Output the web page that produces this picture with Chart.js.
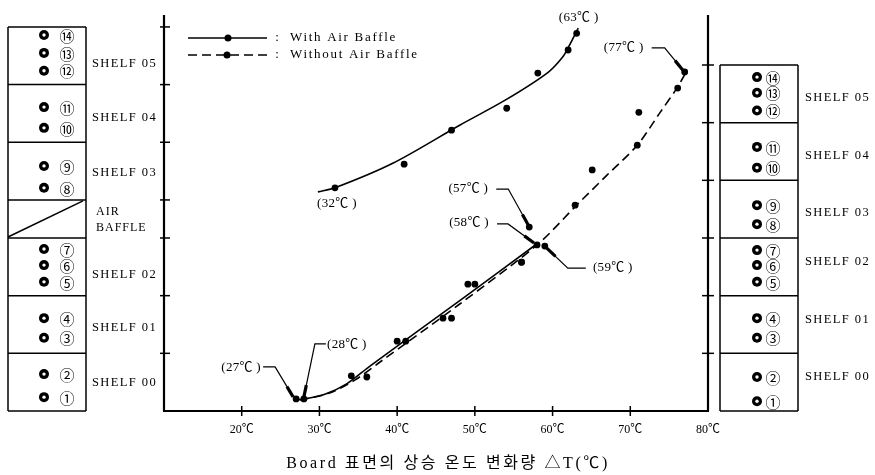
<!DOCTYPE html>
<html>
<head>
<meta charset="utf-8">
<script src="https://cdn.jsdelivr.net/npm/chart.js@4"></script>
<style>
html,body{margin:0;padding:0;background:#fff;}
#wrap{width:875px;height:475px;position:relative;}
canvas{display:block;}
</style>
</head>
<body>
<div id="wrap"><canvas id="c" width="875" height="475"></canvas></div>
<script>
// ---- data (x: temperature rise °C, y: sensor height in shelf units) ----
const sensorLabels = ['①','②','③','④','⑤','⑥','⑦','⑧','⑨','⑩','⑪','⑫','⑬','⑭'];
const tempWith      = [27.0, 34.1, 40.0, 45.9, 49.1, 56.0, 58.0, 32.0, 40.9, 47.0, 54.1, 58.1, 62.0, 63.1];
const heightWith    = [0.21, 0.61, 1.21, 1.61, 2.20, 2.58, 2.88, 3.87, 4.28, 4.87, 5.25, 5.86, 6.26, 6.55];
const tempWithout   = [28.0, 36.1, 41.1, 47.0, 50.0, 56.0, 59.0, 57.0, 62.9, 65.1, 70.9, 71.1, 76.1, 77.0];
const heightWithout = [0.21, 0.59, 1.21, 1.61, 2.20, 2.58, 2.86, 3.19, 3.57, 4.18, 4.61, 5.18, 5.60, 5.88];

// fitted curves
const curveWithLowT  = [26.6, 28.1, 30.7, 33.5, 36.5, 48.1, 58.0];
const curveWithLowH  = [0.19, 0.21, 0.29, 0.47, 0.78, 1.92, 2.90];
const curveWithHighT = [29.8, 32.0, 39.5, 48.1, 53.9, 59.3, 61.3, 62.2, 63.3];
const curveWithHighH = [3.80, 3.87, 4.30, 4.96, 5.39, 5.86, 6.14, 6.35, 6.64];
const curveWithoutT  = [27.5, 31.3, 34.6, 37.8, 48.1, 58.0, 63.1, 67.0, 70.9, 73.8, 76.0, 77.2];
const curveWithoutH  = [0.19, 0.31, 0.54, 0.85, 1.86, 2.88, 3.57, 4.09, 4.61, 5.17, 5.60, 5.88];

// x-axis ticks
const xTicks = [20, 30, 40, 50, 60, 70, 80];

// shelf layout (heights in shelf units)
const shelvesWith    = [['SHELF 00',0,1],['SHELF 01',1,2],['SHELF 02',2,3],['AIR BAFFLE',3,3.66],['SHELF 03',3.66,4.66],['SHELF 04',4.66,5.66],['SHELF 05',5.66,6.66]];
const shelvesWithout = [['SHELF 00',0,1],['SHELF 01',1,2],['SHELF 02',2,3],['SHELF 03',3,4],['SHELF 04',4,5],['SHELF 05',5,6]];
const panelHeightsWith    = [0.24, 0.64, 1.27, 1.61, 2.24, 2.53, 2.81, 3.87, 4.25, 4.91, 5.27, 5.90, 6.21, 6.52];
const panelHeightsWithout = [0.17, 0.59, 1.27, 1.61, 2.24, 2.53, 2.79, 3.24, 3.57, 4.22, 4.58, 5.21, 5.52, 5.79];

const legendLabels = ['With Air Baffle', 'Without Air Baffle'];
const xTitle = 'Board 표면의 상승 온도 변화량 △T(℃)';

// callouts: [text, series, index]
const callouts = [
  ['(63℃ )', 'with', 13], ['(77℃ )', 'without', 13], ['(32℃ )', 'with', 7],
  ['(57℃ )', 'without', 7], ['(58℃ )', 'with', 6], ['(59℃ )', 'without', 6],
  ['(27℃ )', 'with', 0], ['(28℃ )', 'without', 0]
];
// callout layout offsets (text centre, leader path) relative to the target point, in px
const calloutLayout = [
  {t:[2,-16]},
  {t:[-61,-24], p:[[-33,-24],[-20,-24],[-2,-2]]},
  {t:[2,16]},
  {t:[-61,-38], p:[[-33,-38],[-21,-38],[-1,-2]]},
  {t:[-68,-22], p:[[-40,-21],[-29,-21],[-3,-2]]},
  {t:[68,22],   p:[[41,22],[23,22],[2,2]]},
  {t:[-55,-31], p:[[-33,-32],[-21,-32],[-3,-2]]},
  {t:[43,-54],  p:[[22,-55],[11,-55],[0,-2]]}
];

const SERIF = '"Liberation Serif", "Noto Sans CJK KR", serif';
const CJK = '"Noto Sans CJK KR", "DejaVu Sans", sans-serif';
const pts = (xs, ys) => xs.map((v, i) => ({x: v, y: ys[i]}));

const diagram = {
  id: 'diagram',
  afterDraw(chart) {
    const {ctx, chartArea: a, scales: {x, y}} = chart;
    const X = v => x.getPixelForValue(v), Y = v => y.getPixelForValue(v);
    const line = (pts, lw, dash) => {
      ctx.save(); ctx.lineWidth = lw; ctx.setLineDash(dash || []);
      ctx.beginPath(); ctx.moveTo(pts[0][0], pts[0][1]);
      for (let i = 1; i < pts.length; i++) ctx.lineTo(pts[i][0], pts[i][1]);
      ctx.stroke(); ctx.restore();
    };
    const text = (s, px, py, font, align, ls) => {
      ctx.save(); ctx.font = font; ctx.textAlign = align || 'center'; ctx.textBaseline = 'middle';
      if ('letterSpacing' in ctx) ctx.letterSpacing = ls || '0px';
      ctx.fillText(s, px, py); ctx.restore();
    };
    ctx.save();
    ctx.strokeStyle = '#000'; ctx.fillStyle = '#000';
    const top = Y(y.max);
    // axes
    line([[a.left, top], [a.left, a.bottom]], 2.2);
    line([[a.right, top], [a.right, a.bottom]], 2.2);
    line([[a.left - 1, a.bottom], [a.right + 1, a.bottom]], 2.2);
    xTicks.slice(0, -1).forEach(v => line([[X(v), a.bottom - 5], [X(v), a.bottom + 5]], 1.5));
    shelvesWith.forEach(s => line([[a.left - 4, Y(s[2])], [a.left + 6, Y(s[2])]], 1.5));
    shelvesWithout.forEach(s => line([[a.right - 6, Y(s[2])], [a.right + 6, Y(s[2])]], 1.5));

    // panels
    const panel = (shelves, heights, bx0, bx1, cx, nx, lx, labOff) => {
      const yTop = Y(shelves[shelves.length - 1][2]);
      line([[bx0, yTop], [bx0, a.bottom]], 1.5);
      line([[bx1, yTop], [bx1, a.bottom]], 1.5);
      line([[bx0, a.bottom], [bx1, a.bottom]], 1.5);
      shelves.forEach((s, i) => {
        line([[bx0, Y(s[2])], [bx1, Y(s[2])]], 1.5);
        const cy = (Y(s[1]) + Y(s[2])) / 2 + labOff[i];
        if (s[0] === 'AIR BAFFLE') {
          line([[bx0, Y(s[1]) - 1], [bx1 - 3, Y(s[2]) + 1]], 1.5);
          text('AIR', lx + 4, cy - 7, '12px ' + SERIF, 'left', '1px');
          text('BAFFLE', lx + 4, cy + 9, '12px ' + SERIF, 'left', '1px');
        } else {
          text(s[0], lx, cy, '12.5px ' + SERIF, 'left', '1.4px');
        }
      });
      heights.forEach((h, i) => {
        const py = Y(h);
        ctx.beginPath(); ctx.arc(cx, py, 5, 0, Math.PI * 2); ctx.fill();
        ctx.save(); ctx.fillStyle = '#fff'; ctx.beginPath(); ctx.arc(cx, py, 1.7, 0, Math.PI * 2); ctx.fill(); ctx.restore();
        text(sensorLabels[i], nx, py + 1, '15px ' + CJK, 'center');
      });
    };
    panel(shelvesWith, panelHeightsWith, 8, 86, 44, 67, 92, [1, 3, 8, 0, 2, 4, 8]);
    panel(shelvesWithout, panelHeightsWithout, 720, 798, 757, 773, 805, [-5, -5, -5, 4, 4, 4]);

    // legend
    const lx0 = a.left + 24, lx1 = a.left + 103, ly = top + 23;
    line([[lx0, ly], [lx1, ly]], 1.6);
    ctx.beginPath(); ctx.arc(a.left + 64, ly, 3.5, 0, Math.PI * 2); ctx.fill();
    line([[lx0, ly + 17], [lx1, ly + 17]], 1.6, [9, 5]);
    ctx.beginPath(); ctx.arc(a.left + 63, ly + 17, 3.5, 0, Math.PI * 2); ctx.fill();
    text(':', lx1 + 10, ly, '13px ' + SERIF, 'center');
    text(':', lx1 + 10, ly + 17, '13px ' + SERIF, 'center');
    text(legendLabels[0], lx1 + 23, ly, '13px ' + SERIF, 'left', '1.7px');
    text(legendLabels[1], lx1 + 23, ly + 17, '13px ' + SERIF, 'left', '1.7px');

    // callouts
    callouts.forEach((c, i) => {
      const T = c[1] === 'with' ? tempWith : tempWithout;
      const H = c[1] === 'with' ? heightWith : heightWithout;
      const px = X(T[c[2]]), py = Y(H[c[2]]);
      const L = calloutLayout[i];
      text(c[0], px + L.t[0], py + L.t[1], '13px ' + SERIF, 'center', '0.3px');
      if (L.p) {
        const p = L.p.map(q => [px + q[0], py + q[1]]);
        line(p, 1.2);
        const e = p[p.length - 1], b = p[p.length - 2];
        const dx = e[0] - b[0], dy = e[1] - b[1], len = Math.hypot(dx, dy);
        const k = Math.min(1, 12 / len);
        line([[e[0] - dx * k, e[1] - dy * k], e], 3.2);
      }
    });

    // x title
    text(xTitle, (a.left + a.right) / 2 + 12, 464, '16px ' + SERIF, 'center', '2.6px');
    ctx.restore();
  }
};

new Chart(document.getElementById('c'), {
  type: 'scatter',
  data: {
    datasets: [
      {label: 'With Air Baffle', data: pts(tempWith, heightWith), showLine: false, pointRadius: 3.4, pointBackgroundColor: '#000', pointBorderColor: '#000', borderWidth: 0},
      {label: 'Without Air Baffle', data: pts(tempWithout, heightWithout), showLine: false, pointRadius: 3.4, pointBackgroundColor: '#000', pointBorderColor: '#000', borderWidth: 0},
      {label: 'With (fit, lower)', data: pts(curveWithLowT, curveWithLowH), showLine: true, pointRadius: 0, borderColor: '#000', borderWidth: 1.6, tension: 0.3, fill: false},
      {label: 'With (fit, upper)', data: pts(curveWithHighT, curveWithHighH), showLine: true, pointRadius: 0, borderColor: '#000', borderWidth: 1.6, tension: 0.3, fill: false},
      {label: 'Without (fit)', data: pts(curveWithoutT, curveWithoutH), showLine: true, pointRadius: 0, borderColor: '#000', borderWidth: 1.6, borderDash: [9, 5], tension: 0.3, fill: false}
    ]
  },
  options: {
    responsive: false,
    animation: false,
    devicePixelRatio: 1,
    layout: {padding: {left: 164, right: 167, top: 15, bottom: 0}},
    plugins: {legend: {display: false}, tooltip: {enabled: false}},
    scales: {
      x: {
        type: 'linear', min: 10, max: 80, position: 'bottom',
        afterFit(s) { s.height = 64; },
        border: {display: false},
        grid: {display: false, drawTicks: false},
        afterBuildTicks(s) { s.ticks = [10].concat(xTicks).map(v => ({value: v})); },
        ticks: {
          autoSkip: false, maxRotation: 0, padding: 12, color: '#000',
          font: {family: SERIF, size: 12},
          callback: v => (v === 10 ? '' : v + '℃')
        }
      },
      y: {type: 'linear', min: 0, max: 6.867, display: false}
    }
  },
  plugins: [diagram]
});
</script>
</body>
</html>
